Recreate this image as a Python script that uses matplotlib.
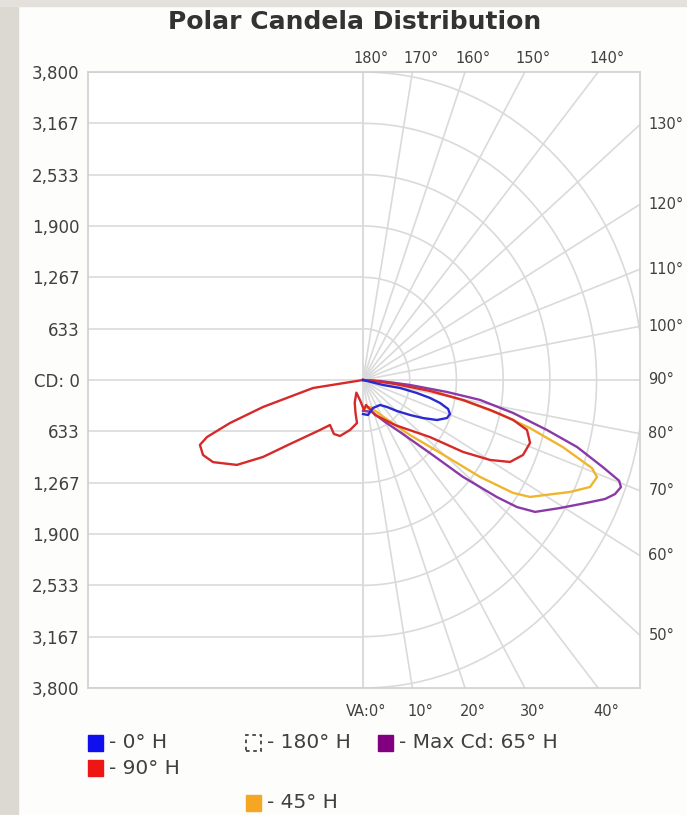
import numpy as np
import matplotlib
matplotlib.use('Agg')
import matplotlib.pyplot as plt
from matplotlib.patches import Rectangle

W, H = 687, 815  # output size in pixels

# curves: vertical angle (deg from nadir, negative = left half) and candela
blue_va = [0, 8.9, 21.4, 36.8, 44.4, 50.3, 55.9, 60, 63.8, 67.6, 70.4, 72.8, 74.8, 76.3, 77.6, 78.9, 77.2, 90]
blue_cd = [420, 437, 371, 385, 466, 600, 770, 939, 1118, 1231, 1252, 1207, 1082, 935, 749, 512, 279, 0]

red_left_va = [-90, -81.7, -76.2, -73.6, -71.6, -70.1, -66.9, -63.5, -58.5, -55, -51.4, -43.4, -38.9,
               -30.6, -24.3, -16, -8.7, -14, -22, -30, -8, 2.1]
red_left_cd = [0, 685, 1396, 1880, 2229, 2351, 2358, 2271, 2005, 1656, 1266, 849, 713,
               774, 758, 642, 537, 420, 300, 180, 260, 370]
red_right_va = [7.5, 20.7, 38, 52.2, 56.8, 60.2, 63.1, 66.9, 71.1, 74.5, 76.4, 77.9, 79.7, 81.5, 83.5, 86, 90]
red_right_cd = [311, 461, 705, 1149, 1621, 1985, 2235, 2358, 2394, 2307, 2093, 1762, 1378, 918, 437, 160, 0]

orange_va = [0, 15.9, 32.5, 43.2, 50.2, 53, 55.6, 57.5, 60.1, 63.8, 66.8, 69.3, 70.7, 73, 75.3, 77.3, 79.4, 82.3, 85.1, 90]
orange_cd = [340, 347, 556, 931, 1483, 1987, 2466, 2685, 2847, 3129, 3349, 3391, 3289, 2835, 2340, 1904, 1407, 917, 436, 0]

purple_va = [0, 17.2, 30, 38, 45.2, 48.6, 51.5, 53.1, 55.1, 59.4, 63.2, 65.9, 67.6, 69.3, 70.3, 71.7,
             74.1, 76.1, 78.7, 81.2, 82.6, 84.5, 87, 90]
purple_cd = [380, 413, 598, 815, 1279, 1809, 2321, 2611, 2844, 3103, 3371, 3595, 3694, 3738, 3688, 3426,
             3017, 2570, 2074, 1605, 1149, 640, 231, 0]

cd_max = 3800
cd_ticks = [3800, 3167, 2533, 1900, 1267, 633, 0, -633, -1267, -1900, -2533, -3167, -3800]
cd_labels = ['3,800', '3,167', '2,533', '1,900', '1,267', '633', 'CD: 0',
             '633', '1,267', '1,900', '2,533', '3,167', '3,800']
top_angles = [180, 170, 160, 150, 140]
right_angles = [130, 120, 110, 100, 90, 80, 70, 60, 50]
bottom_angles = [0, 10, 20, 30, 40]
bottom_labels = ['VA:0°', '10°', '20°', '30°', '40°']

grid_c = '#dadada'
text_c = '#404040'


def xy(va, cd):
    a = np.radians(va)
    cd = np.asarray(cd, dtype=float)
    return cd * np.sin(a), -cd * np.cos(a)


def fx(px):
    return px / W


def fy(py):
    return 1 - py / H


plt.rcParams['font.family'] = ['DejaVu Sans']
fig = plt.figure(figsize=(W / 100, H / 100), dpi=100, facecolor='#fdfdfc')

# textured border of the screenshot, kept flat
fig.patches.append(Rectangle((0, 0), fx(18), 1, transform=fig.transFigure, color='#dcd9d3', zorder=0))
fig.patches.append(Rectangle((0, fy(6)), 1, fx(6), transform=fig.transFigure, color='#e4e1dc', zorder=0))

ax = fig.add_axes([fx(88), fy(688), fx(640) - fx(88), fy(72) - fy(688)])
ax.set_facecolor('white')
x_left, x_right = -3728, 3755  # picture is squeezed horizontally
ax.set_xlim(x_left, x_right)
ax.set_ylim(-cd_max, cd_max)

# left half: horizontal cd lines
ax.hlines(cd_ticks, x_left, 0, color=grid_c, lw=1.2, zorder=1)
# right half: polar rings and radials
ring_va = np.linspace(0, 180, 181)
for k in range(1, 7):
    rx, ry = xy(ring_va, np.full_like(ring_va, k * cd_max / 6))
    ax.plot(rx, ry, color=grid_c, lw=1.2, zorder=1)
for a in range(0, 181, 10):
    rx, ry = xy([a, a], [0, 8000])
    ax.plot(rx, ry, color=grid_c, lw=1.2, zorder=1)
ax.axvline(0, color=grid_c, lw=1.2, zorder=1)

# curves
ox, oy = xy(orange_va, orange_cd)
ax.plot(ox, oy, color='#efb52e', lw=1.7, zorder=3)
px_, py_ = xy(purple_va, purple_cd)
ax.plot(px_, py_, color='#8a3aa6', lw=1.7, zorder=3)
red_va = red_left_va + red_right_va
red_cd = red_left_cd + red_right_cd
rx, ry = xy(red_va, red_cd)
ax.plot(rx, ry, color='#d62a2a', lw=1.7, zorder=4)
bx, by = xy(blue_va, blue_cd)
ax.plot(bx, by, color='#2a2ad0', lw=1.7, zorder=5)

# frame and cd labels
for s in ax.spines.values():
    s.set_color('#d0d0d0')
    s.set_linewidth(1.2)
ax.set_xticks([])
ax.set_yticks(cd_ticks)
ax.set_yticklabels(cd_labels)
ax.tick_params(axis='y', length=0, pad=6, labelsize=12, labelcolor=text_c)

# angle labels
for a in top_angles:
    x = cd_max * np.tan(np.radians(180 - a))
    ax.annotate(f'{a}°', (x, cd_max), xytext=(6, 10), textcoords='offset points',
                ha='center', va='center', fontsize=10.5, color=text_c, annotation_clip=False)
for a in right_angles:
    y = -x_right / np.tan(np.radians(a))
    ax.annotate(f'{a}°', (x_right, y), xytext=(6, 0), textcoords='offset points',
                ha='left', va='center', fontsize=10.5, color=text_c, annotation_clip=False)
for a, lab in zip(bottom_angles, bottom_labels):
    x = cd_max * np.tan(np.radians(a))
    if a == 0:
        ax.annotate(lab, (x, -cd_max), xytext=(17, -17), textcoords='offset points',
                    ha='right', va='center', fontsize=10.5, color=text_c, annotation_clip=False)
    else:
        ax.annotate(lab, (x, -cd_max), xytext=(6, -17), textcoords='offset points',
                    ha='center', va='center', fontsize=10.5, color=text_c, annotation_clip=False)

fig.text(fx(355), fy(22), 'Polar Candela Distribution', ha='center', va='center',
         fontsize=18, fontweight='bold', color='#333333')

# legend
legend_items = [
    (88, 743, '#1010ee', '- 0° H'),
    (88, 768, '#ee1515', '- 90° H'),
    (246, 743, None, '- 180° H'),
    (378, 743, '#800080', '- Max Cd: 65° H'),
    (246, 803, '#f5a623', '- 45° H'),
]
for lx, ly, col, lab in legend_items:
    if col is None:
        box = Rectangle((fx(lx), fy(ly + 8)), fx(15), fy(0) - fy(16), transform=fig.transFigure,
                        fill=False, ec='#444444', lw=1.3, ls=(0, (2, 2)))
    else:
        box = Rectangle((fx(lx), fy(ly + 8)), fx(15), fy(0) - fy(16), transform=fig.transFigure,
                        color=col)
    fig.patches.append(box)
    fig.text(fx(lx + 21), fy(ly), lab, ha='left', va='center', fontsize=14.5, color=text_c)

fig.savefig('out.png', dpi=100, facecolor=fig.get_facecolor())
